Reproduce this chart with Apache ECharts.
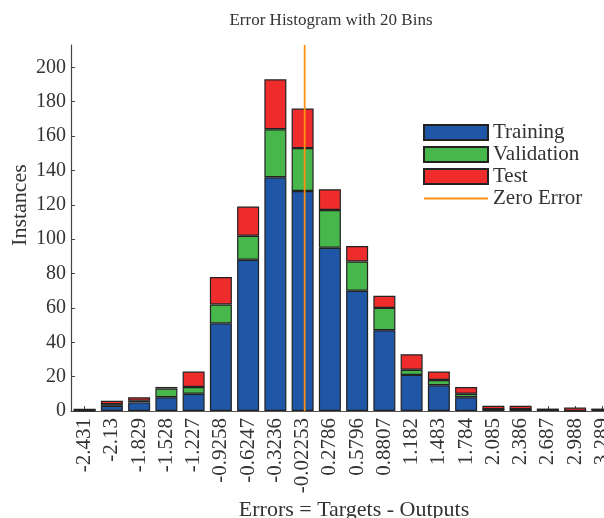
<!DOCTYPE html>
<html>
<head>
<meta charset="utf-8">
<script src="https://cdn.jsdelivr.net/npm/echarts@6/dist/echarts.min.js"></script>
<style>
  html, body { margin: 0; padding: 0; background: #ffffff; }
  #chart { width: 604px; height: 518px; }
</style>
</head>
<body>
<div id="chart"></div>
<script>
// Bin centres of the 20-bin error histogram (category labels)
const binCenters = ['-2.431', '-2.13', '-1.829', '-1.528', '-1.227', '-0.9258', '-0.6247',
  '-0.3236', '-0.02253', '0.2786', '0.5796', '0.8807', '1.182', '1.483', '1.784',
  '2.085', '2.386', '2.687', '2.988', '3.289'];

// Instance counts per bin, stacked
const training   = [0, 3, 5, 8, 10, 51, 88, 136, 128, 95, 70, 47, 21, 15, 8, 1, 1, 1, 0, 1];
const validation = [1, 1, 1, 5, 4, 11, 14, 28, 25, 22, 17, 13, 3, 3, 2, 0, 0, 0, 0, 0];
const test       = [0, 2, 2, 1, 9, 16, 17, 29, 23, 12, 9, 7, 9, 5, 4, 2, 2, 0, 2, 0];

// Y axis ticks and extent
const yTicks = [0, 20, 40, 60, 80, 100, 120, 140, 160, 180, 200];
const yMax = 213;

// Zero error reference position (in error units)
const zeroError = 0;

const firstCenter = parseFloat(binCenters[0]);
const lastCenter = parseFloat(binCenters[binCenters.length - 1]);
const binWidth = (lastCenter - firstCenter) / (binCenters.length - 1);

const serif = 'Liberation Serif';
const textColor = '#333333';
const edge = '#222222';
const zeroColor = '#ff9214';

const chart = echarts.init(document.getElementById('chart'), null, { renderer: 'canvas' });

function barSeries(name, data, color) {
  return {
    name: name,
    type: 'bar',
    stack: 'errors',
    data: data,
    barWidth: 22,
    itemStyle: { color: color, borderColor: edge, borderWidth: 1.2 },
    emphasis: { disabled: true },
    animation: false
  };
}

chart.setOption({
  animation: false,
  backgroundColor: '#ffffff',
  title: [{
    text: 'Error Histogram with 20 Bins',
    left: 326,
    top: 7,
    textAlign: 'center',
    textStyle: { fontFamily: serif, fontSize: 17, fontWeight: 'normal', color: textColor }
  }, {
    text: 'Errors = Targets - Outputs',
    left: 349,
    top: 494,
    textAlign: 'center',
    textStyle: { fontFamily: serif, fontSize: 22, fontWeight: 'normal', color: textColor }
  }],
  graphic: [{
    type: 'text',
    x: 9,
    y: 205,
    rotation: Math.PI / 2,
    style: {
      text: 'Instances',
      fontFamily: serif,
      fontSize: 22,
      fill: textColor,
      align: 'center',
      verticalAlign: 'top'
    }
  }],
  legend: {
    left: 423,
    top: 122,
    padding: 0,
    orient: 'vertical',
    itemWidth: 64,
    itemHeight: 15,
    itemGap: 1,
    selectedMode: false,
    textStyle: { fontFamily: serif, fontSize: 21, color: textColor },
    data: [
      { name: 'Training', icon: 'rect' },
      { name: 'Validation', icon: 'rect' },
      { name: 'Test', icon: 'rect' },
      { name: 'Zero Error', itemStyle: { opacity: 0 } }
    ]
  },
  grid: { left: 71, top: 45, width: 545, bottom: 107, outerBoundsMode: 'none' },
  xAxis: [{
    type: 'category',
    data: binCenters,
    axisLine: { show: true, onZero: false, lineStyle: { color: '#555555', width: 1 } },
    axisTick: { show: true, inside: true, length: 5, alignWithLabel: true, lineStyle: { color: '#444444' } },
    axisLabel: {
      interval: 0,
      rotate: 90,
      margin: 7,
      fontFamily: serif,
      fontSize: 21,
      color: textColor
    },
    splitLine: { show: false }
  }, {
    type: 'value',
    show: false,
    min: firstCenter - binWidth / 2,
    max: lastCenter + binWidth / 2,
    axisLine: { onZero: false }
  }],
  yAxis: {
    type: 'value',
    min: 0,
    max: yMax,
    axisLine: { show: true, onZero: false, lineStyle: { color: '#444444', width: 1.2 } },
    axisTick: { show: true, inside: true, length: 4, customValues: yTicks, lineStyle: { color: '#444444' } },
    axisLabel: {
      customValues: yTicks,
      margin: 5,
      fontFamily: serif,
      fontSize: 20,
      color: textColor
    },
    splitLine: { show: false }
  },
  series: [
    barSeries('Training', training, '#1f56a6'),
    barSeries('Validation', validation, '#47b64b'),
    barSeries('Test', test, '#ee2c2c'),
    {
      name: 'Zero Error',
      type: 'line',
      xAxisIndex: 1,
      data: [[zeroError, 0], [zeroError, yMax]],
      symbol: 'none',
      z: 5,
      lineStyle: { color: zeroColor, width: 1.8 },
      itemStyle: { color: zeroColor },
      emphasis: { disabled: true },
      animation: false
    }
  ]
});
</script>
</body>
</html>
